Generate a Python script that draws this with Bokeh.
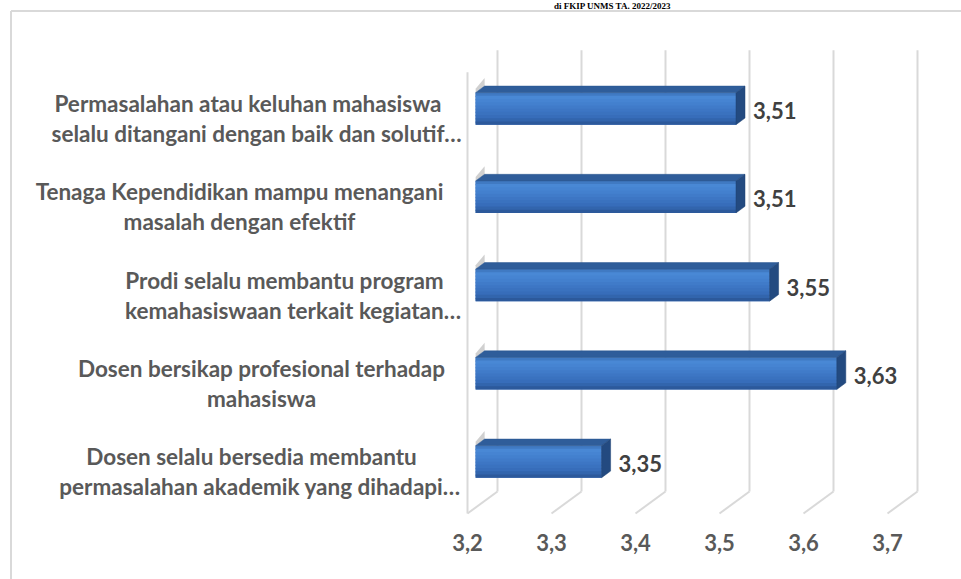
from bokeh.plotting import figure
from bokeh.models import Range1d, LinearAxis, FixedTicker
from bokeh.core.properties import value
from bokeh.embed import file_html
from bokeh.resources import INLINE

# ---------------- data (bottom to top, as in the chart) ----------------
label_lines = [
    ["Dosen selalu bersedia membantu", "permasalahan akademik yang dihadapi\u2026"],
    ["Dosen bersikap profesional terhadap", "mahasiswa"],
    ["Prodi selalu membantu program", "kemahasiswaan terkait kegiatan\u2026"],
    ["Tenaga Kependidikan mampu menangani", "masalah dengan efektif"],
    ["Permasalahan atau keluhan mahasiswa", "selalu ditangani dengan baik dan solutif\u2026"],
]
scores = [3.35, 3.63, 3.55, 3.51, 3.51]
score_labels = ["3,35", "3,63", "3,55", "3,51", "3,51"]
ticks = [3.2, 3.3, 3.4, 3.5, 3.6, 3.7]
tick_labels = ["3,2", "3,3", "3,4", "3,5", "3,6", "3,7"]
title_text = "di FKIP UNMS TA. 2022/2023"

# ---------------- layout constants ----------------
W, H = 961, 579
BASE = 3.2
X0_PX = 467.0
PX_PER_X = 840.0
PX_PER_CAT = 88.25
FLOOR = -0.52
FLOOR_PX = 513.0
WALL_TOP = 4.48
label_center_px = [251, 261, 284, 239, 247.5]


def xpx(px):
    return BASE + (px - X0_PX) / PX_PER_X


def ypx(py):
    return FLOOR + (FLOOR_PX - py) / PX_PER_CAT


DX = 30.0 / PX_PER_X
DY = 22.0 / PX_PER_CAT
D0, D1 = 0.27, 0.57
HALF = 16.0 / PX_PER_CAT

p = figure(width=W, height=H, x_range=Range1d(xpx(0), xpx(W)),
           y_range=Range1d(ypx(H), ypx(0)), toolbar_location=None,
           output_backend="svg", min_border=0, x_axis_location=None,
           y_axis_location=None, outline_line_color=None,
           background_fill_color="white", border_fill_color="white")
p.grid.visible = False

GRID = "#d9d9d9"
# outer border (top + left)
p.segment(x0=[xpx(10.5), xpx(10.5)], y0=[ypx(10.5), ypx(10.5)],
          x1=[xpx(10.5), xpx(W + 5)], y1=[ypx(H + 5), ypx(10.5)],
          line_color=GRID, line_width=2)

# back wall verticals
p.segment(x0=[t + DX for t in ticks], y0=[FLOOR + DY] * len(ticks),
          x1=[t + DX for t in ticks], y1=[WALL_TOP + DY] * len(ticks),
          line_color=GRID, line_width=2)
# floor diagonals
p.segment(x0=ticks, y0=[FLOOR] * len(ticks),
          x1=[t + DX for t in ticks], y1=[FLOOR + DY] * len(ticks),
          line_color=GRID, line_width=2)
# side wall front edge
p.segment(x0=[BASE], y0=[FLOOR], x1=[BASE], y1=[WALL_TOP],
          line_color=GRID, line_width=2)

# shadow smudges on side wall
sx, sy = [], []
for i, v in enumerate(scores):
    yt = i + HALF
    sx.append([BASE + D0 * DX, BASE + D1 * DX, BASE + D1 * DX, BASE + D0 * DX])
    sy.append([yt + D0 * DY, yt + D1 * DY, yt + D1 * DY + 8 / PX_PER_CAT, yt + D0 * DY + 4 / PX_PER_CAT])
p.patches(sx, sy, fill_color="#b0b0b0", fill_alpha=0.6, line_color=None)


def hex2rgb(h):
    h = h.lstrip("#")
    return tuple(int(h[k:k + 2], 16) for k in (0, 2, 4))


def grad(stops, t):
    for (t0, c0), (t1, c1) in zip(stops, stops[1:]):
        if t0 <= t <= t1:
            a = (t - t0) / (t1 - t0) if t1 > t0 else 0
            r0, r1 = hex2rgb(c0), hex2rgb(c1)
            return "#%02x%02x%02x" % tuple(int(round(r0[k] + (r1[k] - r0[k]) * a)) for k in range(3))
    return stops[-1][1]


front_stops = [(0.0, "#2f5f9f"), (0.08, "#4b8bd8"), (0.3, "#4482d0"),
               (0.75, "#376dba"), (0.93, "#2e5ea2"), (1.0, "#274e88")]

# solid base of each front face (so the gradient stripes leave no gaps)
p.quad(left=[BASE + D0 * DX] * len(scores), right=[v + D0 * DX for v in scores],
       bottom=[i - HALF + D0 * DY for i in range(len(scores))],
       top=[i + HALF + D0 * DY for i in range(len(scores))],
       fill_color="#3a72bf", line_color=None)

NS = 10
OV = 1.2 / PX_PER_CAT
ql, qr, qb, qt, qc = [], [], [], [], []
for i, v in enumerate(scores):
    bot = i - HALF + D0 * DY
    for k in range(NS):
        ql.append(BASE + D0 * DX)
        qr.append(v + D0 * DX)
        qt.append(bot + 2 * HALF * (1 - k / NS))
        qb.append(max(bot, bot + 2 * HALF * (1 - (k + 1) / NS) - OV))
        qc.append(grad(front_stops, (k + 0.5) / NS))
p.quad(left=ql, right=qr, bottom=qb, top=qt, fill_color=qc, line_color=None)

# top faces
tx, ty = [], []
for i, v in enumerate(scores):
    yt = i + HALF
    tx.append([BASE + D0 * DX, v + D0 * DX, v + D1 * DX, BASE + D1 * DX])
    ty.append([yt + D0 * DY, yt + D0 * DY, yt + D1 * DY, yt + D1 * DY])
p.patches(tx, ty, fill_color="#2f5d9a", line_color="#2a5690", line_width=0.5)

# right side faces
rx, ry = [], []
for i, v in enumerate(scores):
    rx.append([v + D0 * DX, v + D1 * DX, v + D1 * DX, v + D0 * DX])
    ry.append([i - HALF + D0 * DY, i - HALF + D1 * DY, i + HALF + D1 * DY, i + HALF + D0 * DY])
p.patches(rx, ry, fill_color="#234a80", line_color="#1f4272", line_width=0.5)

# value labels
p.text(x=[v + D1 * DX for v in scores], y=[i + D0 * DY for i in range(len(scores))],
       text=score_labels, x_offset=8, y_offset=2, text_align="left",
       text_baseline="middle", text_font=value("Lato"), text_font_style="bold",
       text_font_size="22px", text_color="#404040")

# category labels
lx, ly, lt, lyo = [], [], [], []
for i, lines in enumerate(label_lines):
    n = len(lines)
    for k, line in enumerate(lines):
        shift = 8.5 if line.endswith("\u2026") else 0.0
        lx.append(xpx(label_center_px[i] + shift))
        ly.append(i)
        lt.append(line)
        lyo.append(4 + (k - (n - 1) / 2) * 30)
p.text(x=lx, y=ly, text=lt, y_offset=lyo, text_align="center",
       text_baseline="middle", text_font=value("Lato"), text_font_style="bold",
       text_font_size="22.5px", text_color="#595959")

# title line above the chart box (kept fully inside the page)
p.text(x=[xpx(612)], y=[ypx(0.5)], text=[title_text], text_align="center",
       text_baseline="top", text_font=value("Liberation Serif"),
       text_font_style="bold", text_font_size="9px", text_color="#000000")

# x axis at the front floor edge
xaxis = LinearAxis(fixed_location=FLOOR, ticker=FixedTicker(ticks=ticks),
                   major_label_overrides=dict(zip(ticks, tick_labels)))
xaxis.axis_line_color = None
xaxis.major_tick_line_color = None
xaxis.minor_tick_line_color = None
xaxis.major_label_standoff = 14
xaxis.major_label_text_font = "Lato"
xaxis.major_label_text_font_style = "bold"
xaxis.major_label_text_font_size = "22px"
xaxis.major_label_text_color = "#595959"
p.add_layout(xaxis, "below")

open("out.html", "w").write(file_html(p, INLINE))
